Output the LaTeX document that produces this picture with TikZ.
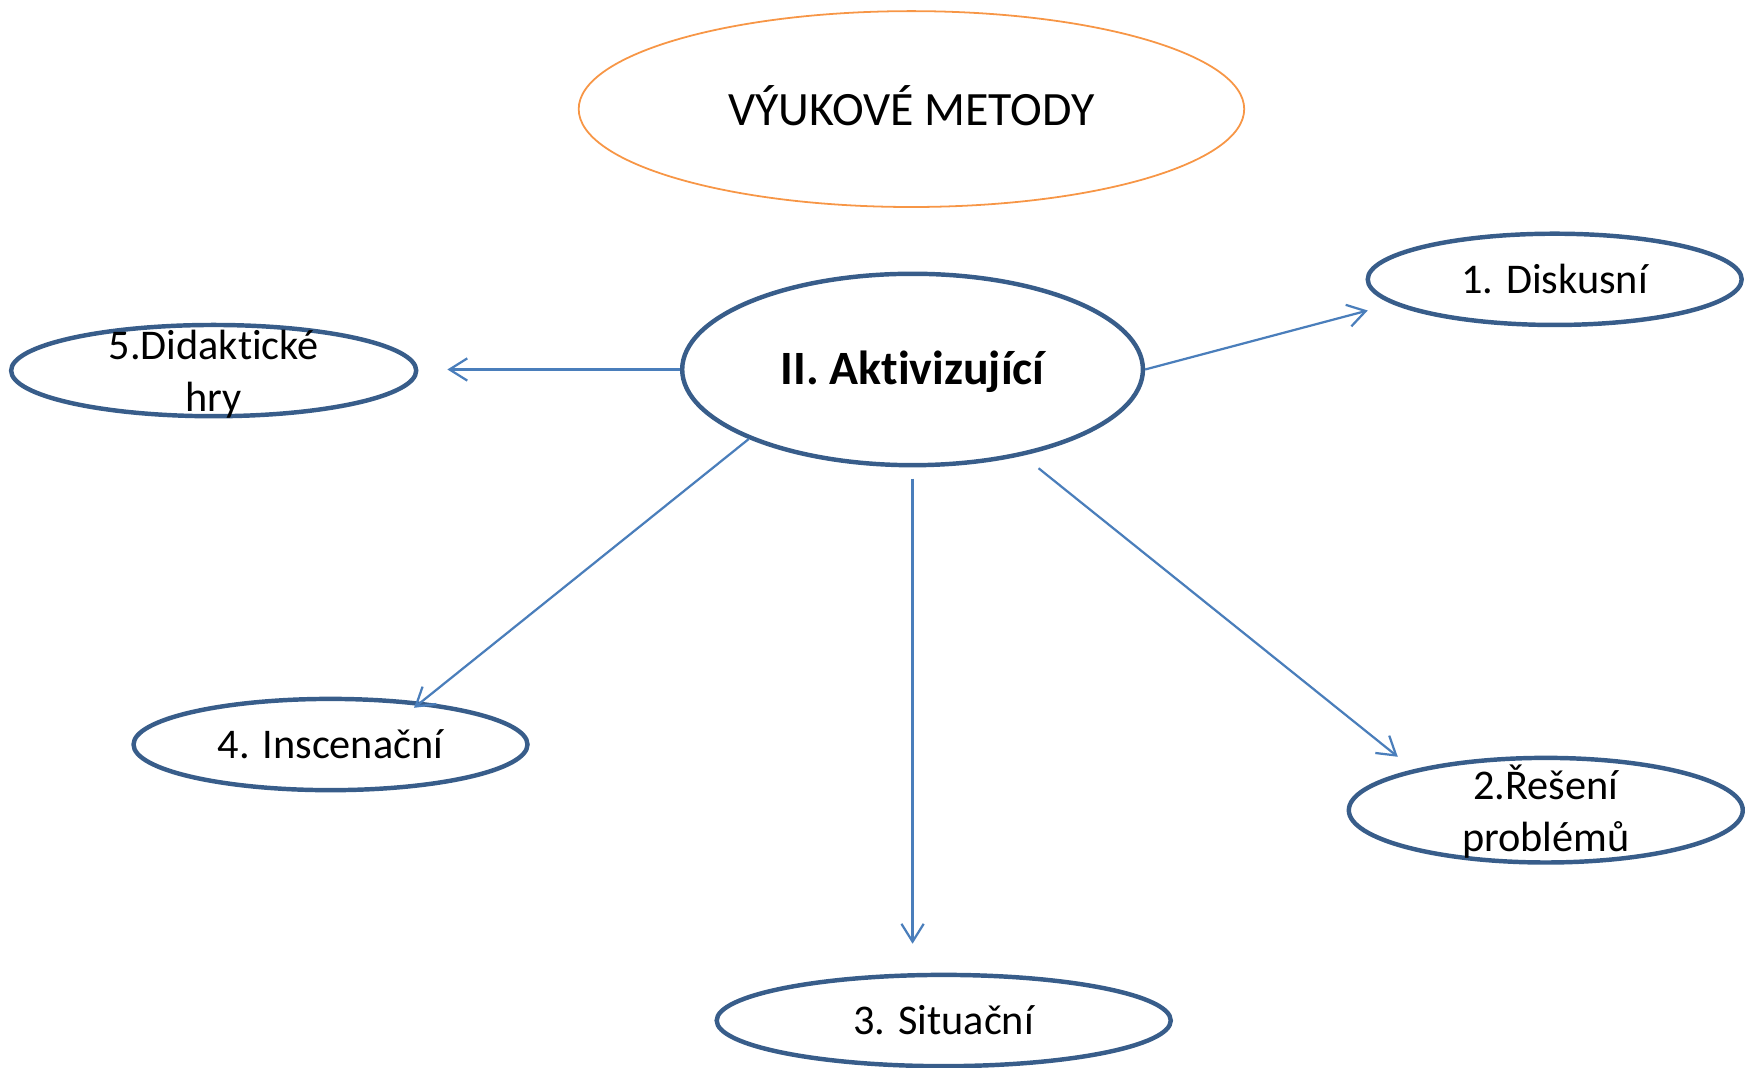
\documentclass[tikz,border=0pt]{standalone}
\usepackage{fontspec}
\setmainfont{Carlito}[Ligatures=NoCommon]
\usetikzlibrary{arrows.meta,shapes.geometric}
\definecolor{ellblue}{HTML}{385D8A}
\definecolor{arrblue}{HTML}{4A7EBB}
\definecolor{ellorange}{HTML}{F79646}
\tikzset{
  ell/.style={ellipse, draw=ellblue, line width=2pt, inner sep=0pt},
  lbl/.style={align=center, font=\fontsize{19}{23.5}\selectfont, text=black},
  biglbl/.style={align=center, font=\fontsize{21.5}{26}\selectfont, text=black},
  conn/.style={draw=arrblue, line width=1pt, -{Straight Barb[length=8pt,width=10pt]}},
}
\begin{document}
\begin{tikzpicture}[x=0.5pt,y=-0.5pt]
\useasboundingbox (0,0) rectangle (1568,958.8);
% title
\node[ellipse, draw=ellorange, line width=0.8pt, inner sep=0pt,
      minimum width=299pt, minimum height=88pt,
      label={[biglbl, yshift=1.5pt]center:VÝUKOVÉ METODY}] (title) at (819,98) {};
% centre
\node[ell, minimum width=207pt, minimum height=86pt,
      label={[biglbl, font=\fontsize{21.5}{26}\selectfont\bfseries, yshift=-1pt]center:II. Aktivizující}] (c) at (820,332) {};
% children
\node[ell, minimum width=168pt, minimum height=41pt,
      label={[lbl]center:1. Diskusní}] (n1) at (1397,251) {};
\node[ell, minimum width=177pt, minimum height=47pt,
      label={[lbl, yshift=-0.5pt]center:2.Řešení\\problémů}] (n2) at (1389,728) {};
\node[ell, minimum width=204pt, minimum height=41pt,
      label={[lbl]center:3. Situační}] (n3) at (848,917) {};
\node[ell, minimum width=177pt, minimum height=41pt,
      label={[lbl]center:4. Inscenační}] (n4) at (297,669) {};
\node[ell, minimum width=182pt, minimum height=41pt,
      label={[lbl, yshift=-1.5pt]center:5.Didaktické\\hry}] (n5) at (192,333) {};
% arrow ends
\coordinate (e1) at (1229,279);
\coordinate (e2) at (1256,680);
\coordinate (e3) at (820,848);
\coordinate (e4) at (372,636);
\coordinate (e5) at (402,332);
\draw[conn] (c.east) -- (e1);
\draw[conn, shorten <=9pt] (c.-38) -- (e2);
\draw[conn, shorten <=5pt] (c.south) -- (e3);
\draw[conn] (c.203) -- (e4);
\draw[conn] (c.west) -- (e5);
\end{tikzpicture}
\end{document}
